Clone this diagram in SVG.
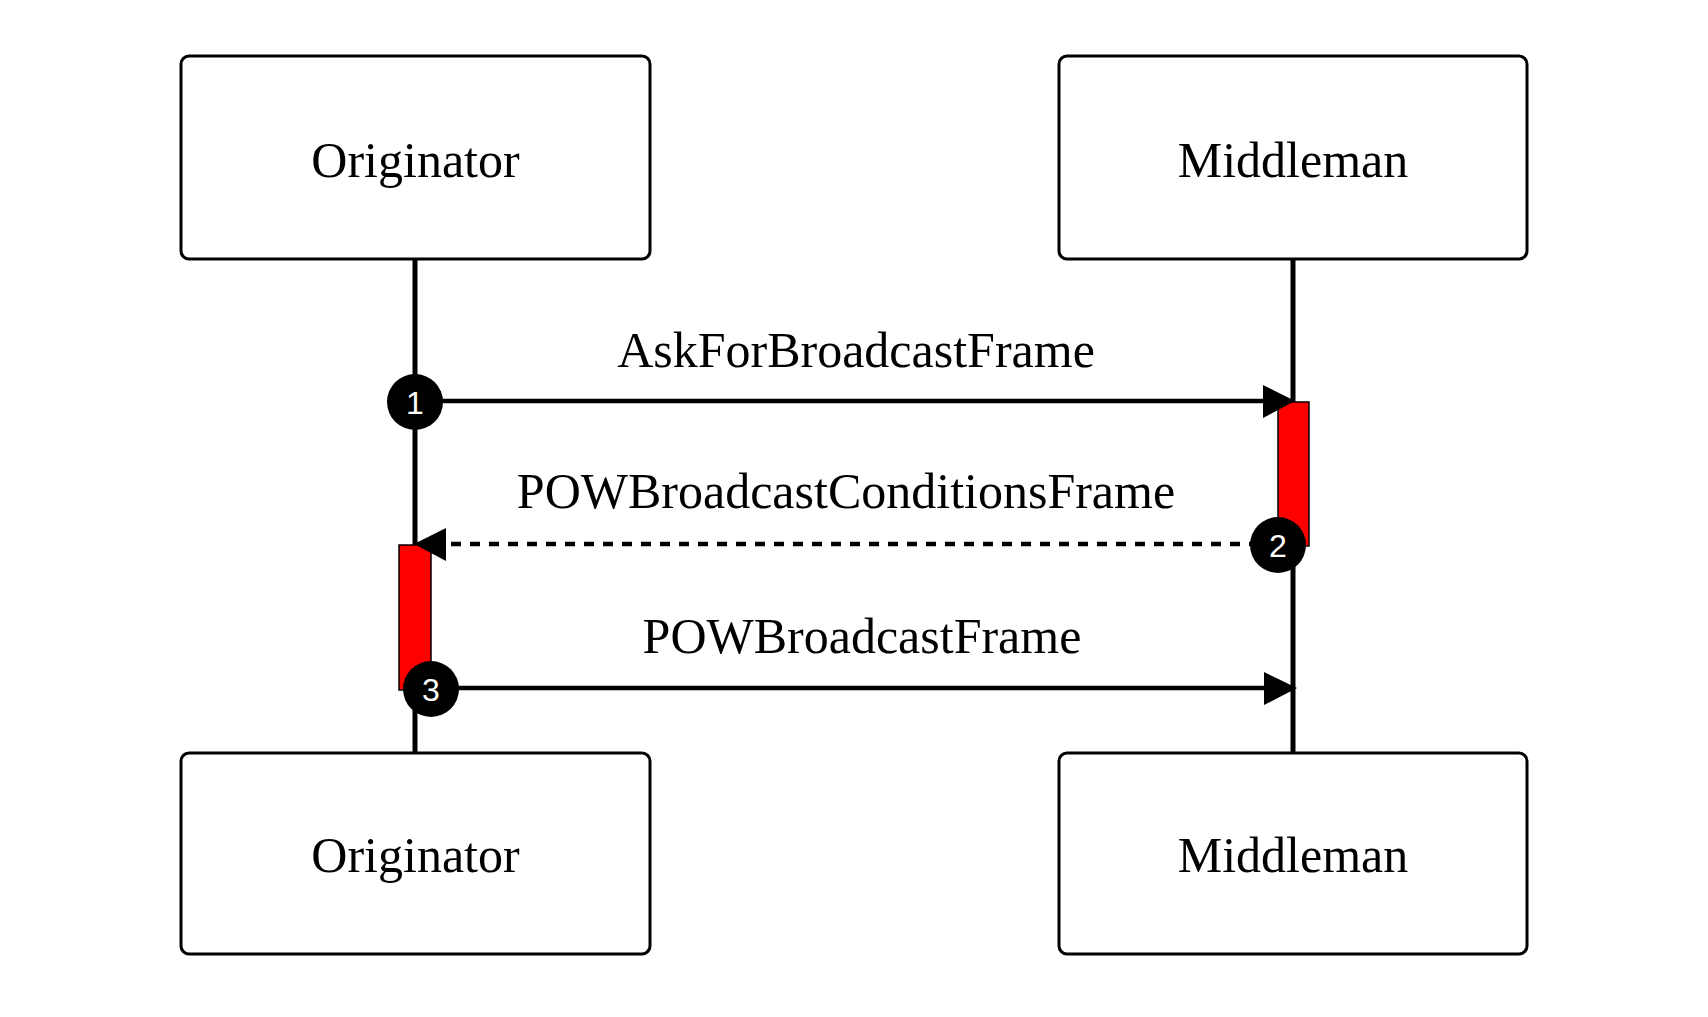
<svg xmlns="http://www.w3.org/2000/svg" width="1708" height="1017" viewBox="0 0 1708 1017">
<style>
.box{fill:#fff;stroke:#000;stroke-width:3}
.lbl{font-family:"Liberation Serif","Times New Roman",serif;font-size:50px;fill:#000;text-anchor:middle}
.life{stroke:#000;stroke-width:5;fill:none}
.msg{stroke:#000;stroke-width:4.5;fill:none}
.dash{stroke-dasharray:10 9}
.head{fill:#000}
.act{fill:#f00;stroke:#000;stroke-width:1.5}
.num{font-family:"Liberation Sans",Arial,sans-serif;font-size:32px;fill:#fff;text-anchor:middle}
</style>
<rect width="1708" height="1017" fill="#fff"/>
<g id="lifelines">
<line class="life" x1="415" y1="258" x2="415" y2="754"/>
<line class="life" x1="1293" y1="258" x2="1293" y2="754"/>
</g>
<g id="orig-top"><rect class="box" x="181" y="56" width="469" height="203" rx="8"/><text class="lbl" x="415.5" y="177">Originator</text></g>
<g id="mid-top"><rect class="box" x="1059" y="56" width="468" height="203" rx="8"/><text class="lbl" x="1293" y="177">Middleman</text></g>
<g id="orig-bot"><rect class="box" x="181" y="753" width="469" height="201" rx="8"/><text class="lbl" x="415.5" y="872">Originator</text></g>
<g id="mid-bot"><rect class="box" x="1059" y="753" width="468" height="201" rx="8"/><text class="lbl" x="1293" y="872">Middleman</text></g>
<g id="activation-mid"><rect class="act" x="1278" y="402" width="31" height="144"/></g>
<g id="activation-orig"><rect class="act" x="399" y="545" width="32" height="145"/></g>
<g id="connectors">
<line class="msg" x1="415" y1="401" x2="1270" y2="401"/>
<polygon class="head" points="1263,385 1295,401 1263,418"/>
<text class="lbl" x="856" y="367">AskForBroadcastFrame</text>
<line class="msg dash" x1="1278" y1="544" x2="440" y2="544"/>
<polygon class="head" points="446,528 414,544 446,561"/>
<text class="lbl" x="846" y="508">POWBroadcastConditionsFrame</text>
<line class="msg" x1="431" y1="688" x2="1270" y2="688"/>
<polygon class="head" points="1264,672 1297,688 1264,705"/>
<text class="lbl" x="862" y="653">POWBroadcastFrame</text>
</g>
<g id="step1"><circle cx="415" cy="402" r="28" fill="#000"/><text class="num" x="415" y="414">1</text></g>
<g id="step2"><circle cx="1278" cy="545" r="28" fill="#000"/><text class="num" x="1278" y="557">2</text></g>
<g id="step3"><circle cx="431" cy="689" r="28" fill="#000"/><text class="num" x="431" y="701">3</text></g>
</svg>
